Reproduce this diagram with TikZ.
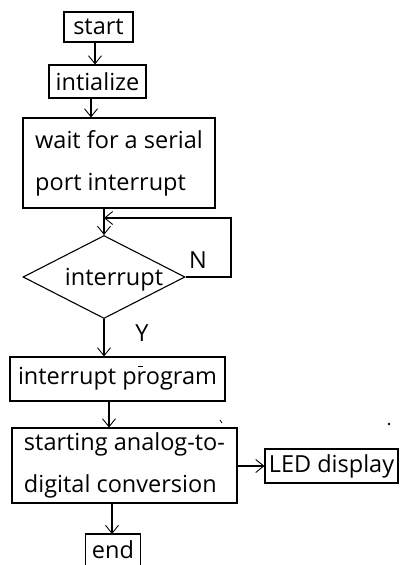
\documentclass[tikz,border=0pt]{standalone}
\usepackage{fontspec}
\setmainfont{Open Sans}
\usetikzlibrary{arrows.meta,shapes.geometric}
\begin{document}
\begin{tikzpicture}[x=1pt,y=-1pt,line width=1.1pt,
  txt/.style={font=\fontsize{23.5}{42}\selectfont},
  box/.style={draw,inner sep=0pt,txt,align=left},
  arr/.style={-{Straight Barb[length=8pt,width=13pt,line width=0.9pt]}}]
\useasboundingbox (0,0) rectangle (399,565);
\begin{scope}
\clip (0,0) rectangle (399,565);
\node[box,minimum width=69pt,minimum height=30pt] (start) at (98.5,27) {start};
\node[box,minimum width=97pt,minimum height=33pt] (init) at (97.5,81.5) {intialize};
\node[box,minimum width=192pt,minimum height=90pt] (wait) at (119,163) {wait for a serial\\port interrupt};
\node[draw,diamond,minimum width=162pt,minimum height=83pt,inner sep=0pt] (dia) at (104,277) {};
\node[txt] (diatext) at (114,280) {interrupt};
\node[box,minimum width=215pt,minimum height=44pt] (ip) at (117.5,379) {interrupt program};
\node[box,minimum width=225pt,minimum height=75pt] (conv) at (124.5,465.5) {starting analog-to-\\digital conversion};
\node[box,minimum width=133pt,minimum height=34pt,inner xsep=0pt] (led) at (331.5,466) {LED display};
\node[txt,inner sep=0pt,minimum width=54pt,minimum height=30pt,anchor=north] (end) at (113,534) {end};
\draw (end.south west) -- (end.north west) -- (end.north east) -- (end.south east);
\node[txt] (nlab) at (198,260) {N};
\node[txt] (ylab) at (142,333) {Y};
\coordinate (loopcorner) at (231,218);

\draw[arr] ([xshift=-3.5pt]start.south) -- ([xshift=-2.5pt]init.north);
\draw[arr] ([xshift=-6.5pt]init.south) -- ([xshift=-28pt]wait.north);
\draw[arr] (wait.south -| dia.north) -- (dia.north);
\draw[arr] (dia.east) -| (loopcorner) -- (loopcorner -| dia.north);
\draw[arr] (dia.south) -- (ip.north -| dia.south);
\draw[arr] ([xshift=-8.5pt]ip.south) -- ([xshift=-15.5pt]conv.north);
\draw[arr] (conv.east |- led.west) -- (led.west);
\draw[arr] ([xshift=-12.5pt]conv.south) -- ([xshift=-1pt]end.north);
% small stray marks seen in the reference
\fill (389,424) circle (1.3pt);
\draw[line width=1pt] (138,366) -- (143,366);
\draw[line width=0.8pt] (220,420) -- (222,423);
\end{scope}
\end{tikzpicture}
\end{document}
